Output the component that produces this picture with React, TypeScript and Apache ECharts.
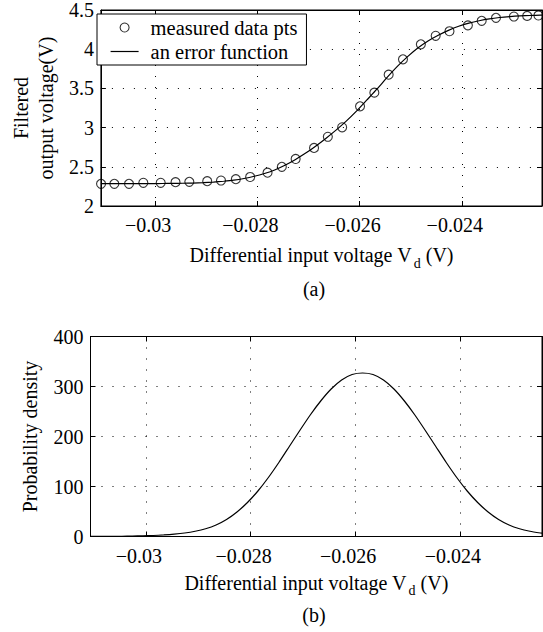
import React, { useEffect, useRef } from 'react';
import * as echarts from 'echarts';

const FONT = 'Liberation Serif';

// x range (V)
const X_MIN = -0.03106;
const X_MAX = -0.02243;
const xTickValues = [-0.03, -0.028, -0.026, -0.024];
const xTickLabels = ['\u22120.03', '\u22120.028', '\u22120.026', '\u22120.024'];

// (a) measured data points
const measuredX = [
  -0.031057, -0.030797, -0.03051, -0.03023, -0.02989, -0.0296, -0.02933, -0.02898, -0.02871, -0.02842,
  -0.02814, -0.0278, -0.02752, -0.02725, -0.02689, -0.02662, -0.02634, -0.02599, -0.02571, -0.02543,
  -0.02515, -0.0248, -0.02451, -0.02424, -0.02388, -0.02361, -0.02333, -0.02298, -0.02272, -0.0225,
];
const measuredY = [
  2.283, 2.283, 2.283, 2.296, 2.296, 2.304, 2.308, 2.317, 2.325, 2.342,
  2.37, 2.425, 2.5, 2.6, 2.741, 2.883, 3.004, 3.271, 3.446, 3.675,
  3.871, 4.062, 4.171, 4.229, 4.304, 4.362, 4.4, 4.417, 4.425, 4.43,
];

// sample positions of the two curves (V)
const curveX = [
  -0.03106, -0.03086, -0.03066, -0.03046, -0.03026, -0.03006, -0.02986, -0.02966, -0.02946, -0.02926,
  -0.02906, -0.02886, -0.02866, -0.02846, -0.02826, -0.02806, -0.02786, -0.02766, -0.02746, -0.02726,
  -0.02706, -0.02686, -0.02666, -0.02646, -0.02626, -0.02606, -0.02586, -0.02566, -0.02546, -0.02526,
  -0.02506, -0.02486, -0.02466, -0.02446, -0.02426, -0.02406, -0.02386, -0.02366, -0.02346, -0.02326,
  -0.02306, -0.02286, -0.02266, -0.02246, -0.02243,
];

// (a) error function fit
const erfY = [
  2.285, 2.285, 2.285, 2.285, 2.286, 2.286, 2.287, 2.288, 2.29, 2.293,
  2.298, 2.305, 2.316, 2.33, 2.351, 2.379, 2.415, 2.46, 2.52, 2.591,
  2.672, 2.763, 2.862, 2.968, 3.083, 3.21, 3.35, 3.49, 3.64, 3.78,
  3.905, 4.015, 4.105, 4.178, 4.24, 4.292, 4.332, 4.363, 4.387, 4.404,
  4.416, 4.425, 4.43, 4.434, 4.434,
];

// (b) probability density
const densY = [
  0.14, 0.22, 0.35, 0.55, 0.85, 1.3, 2, 3.1, 4.7, 7,
  10.5, 15.5, 23, 34, 49, 68, 91, 118, 148, 180,
  212, 243, 271, 295, 313, 324, 327, 324, 313, 295,
  271, 243, 212, 180, 148, 118, 91, 68, 49, 34,
  23, 15.5, 10.5, 7, 6.7,
];

const yTopMin = 2, yTopMax = 4.5, yTopInterval = 0.5;
const yBotMin = 0, yBotMax = 400, yBotInterval = 100;

const zip = (xs: number[], ys: number[]) => xs.map((x, i) => [x, ys[i]]);

const xLabel = (v: number) => {
  const i = xTickValues.findIndex((t) => Math.abs(t - v) < 1e-9);
  return i >= 0 ? xTickLabels[i] : '';
};

const gridLine = { show: true, lineStyle: { color: '#000', width: 1, type: [1, 10] as any } };
const blackLine = { show: true, onZero: false, lineStyle: { color: '#000', width: 1 } };
const tick = { show: true, inside: true, length: 5, lineStyle: { color: '#000', width: 1 } };

const xName = 'Differential input voltage V{sub|d} (V)';
const xNameStyle = {
  fontFamily: FONT,
  fontSize: 20,
  color: '#000',
  rich: {
    sub: { fontFamily: FONT, fontSize: 14, color: '#000', padding: [16, 0, 0, 2] },
  },
};

const xBottom = (gridIndex: number, nameGap: number) => ({
  type: 'value',
  gridIndex,
  position: 'bottom',
  min: X_MIN,
  max: X_MAX,
  axisLine: blackLine,
  axisTick: { ...tick, customValues: xTickValues },
  axisLabel: {
    customValues: xTickValues,
    formatter: xLabel,
    margin: 9,
    fontFamily: FONT,
    fontSize: 20,
    color: '#000',
    padding: [0, 14, 0, 0],
  },
  splitLine: gridLine,
  name: xName,
  nameLocation: 'middle',
  nameGap,
  nameTextStyle: xNameStyle,
});

const xTop = (gridIndex: number) => ({
  type: 'value',
  gridIndex,
  position: 'top',
  min: X_MIN,
  max: X_MAX,
  axisLine: blackLine,
  axisTick: { ...tick, customValues: xTickValues },
  axisLabel: { show: false },
  splitLine: { show: false },
});

const yLeft = (gridIndex: number, min: number, max: number, interval: number, name: string, nameGap: number, lineHeight: number) => ({
  type: 'value',
  gridIndex,
  position: 'left',
  min,
  max,
  interval,
  axisLine: blackLine,
  axisTick: tick,
  axisLabel: { margin: 7, fontFamily: FONT, fontSize: 20, color: '#000' },
  splitLine: gridLine,
  name,
  nameLocation: 'middle',
  nameGap,
  nameTextStyle: { fontFamily: FONT, fontSize: 20, color: '#000', lineHeight },
});

const yRight = (gridIndex: number, min: number, max: number, interval: number) => ({
  type: 'value',
  gridIndex,
  position: 'right',
  min,
  max,
  interval,
  axisLine: blackLine,
  axisTick: tick,
  axisLabel: { show: false },
  splitLine: { show: false },
});

export default function App() {
  const ref = useRef<HTMLDivElement>(null);
  useEffect(() => {
    if (!ref.current) return;
    const chart = echarts.init(ref.current, null, { renderer: 'svg' });
    const option: any = {
      animation: false,
      backgroundColor: '#fff',
      textStyle: { fontFamily: FONT },
      grid: [
        { left: 90.5, top: 6, right: 1, height: 200, show: true, borderColor: '#000', borderWidth: 1 },
        { left: 90.5, top: 336.5, right: 1, height: 200, show: true, borderColor: '#000', borderWidth: 1 },
      ],
      xAxis: [xBottom(0, 34), xTop(0), xBottom(1, 31), xTop(1)],
      yAxis: [
        yLeft(0, yTopMin, yTopMax, yTopInterval, 'Filtered\noutput voltage(V)', 39, 25),
        yRight(0, yTopMin, yTopMax, yTopInterval),
        yLeft(1, yBotMin, yBotMax, yBotInterval, 'Probability density', 51, 20),
        yRight(1, yBotMin, yBotMax, yBotInterval),
      ],
      legend: {
        left: 97,
        top: 14,
        orient: 'vertical',
        selectedMode: false,
        padding: [3, 9, 3, 13],
        itemGap: 3,
        itemWidth: 28,
        itemHeight: 9,
        borderColor: '#000',
        borderWidth: 1,
        backgroundColor: '#fff',
        textStyle: { fontFamily: FONT, fontSize: 20.5, color: '#000', padding: [0, 0, 0, 7] },
        data: [
          { name: 'measured data pts', icon: 'circle', itemStyle: { color: 'rgba(255,255,255,0)', borderColor: '#000', borderWidth: 1.1 } },
          { name: 'an error function', itemStyle: { color: 'rgba(255,255,255,0)', borderColor: 'rgba(255,255,255,0)', borderWidth: 0 }, lineStyle: { color: '#000', width: 1.2 } },
        ],
      },
      series: [
        {
          type: 'line',
          name: 'an error function',
          xAxisIndex: 0,
          yAxisIndex: 0,
          data: zip(curveX, erfY),
          symbol: 'none',
          showSymbol: false,
          smooth: 0.2,
          lineStyle: { color: '#000', width: 1.2 },
          itemStyle: { color: '#000' },
          z: 3,
        },
        {
          type: 'scatter',
          name: 'measured data pts',
          xAxisIndex: 0,
          yAxisIndex: 0,
          data: zip(measuredX, measuredY),
          symbol: 'circle',
          symbolSize: 9,
          itemStyle: { color: 'rgba(255,255,255,0)', borderColor: '#000', borderWidth: 1.1 },
          z: 4,
        },
        {
          type: 'line',
          name: 'density',
          xAxisIndex: 2,
          yAxisIndex: 2,
          data: zip(curveX, densY),
          symbol: 'none',
          showSymbol: false,
          smooth: 0.2,
          lineStyle: { color: '#000', width: 1.2 },
          itemStyle: { color: '#000' },
          z: 3,
        },
      ],
      graphic: [
        { type: 'text', x: 314, y: 289, style: { text: '(a)', fontFamily: FONT, fontSize: 20, fill: '#000', textAlign: 'center', textVerticalAlign: 'middle' } },
        { type: 'text', x: 314, y: 615, style: { text: '(b)', fontFamily: FONT, fontSize: 20, fill: '#000', textAlign: 'center', textVerticalAlign: 'middle' } },
      ],
    };
    chart.setOption(option);
    return () => chart.dispose();
  }, []);
  return (
    <div
      ref={ref}
      style={{ position: 'fixed', left: 0, top: 0, width: 543, height: 632, background: '#fff' }}
    />
  );
}
